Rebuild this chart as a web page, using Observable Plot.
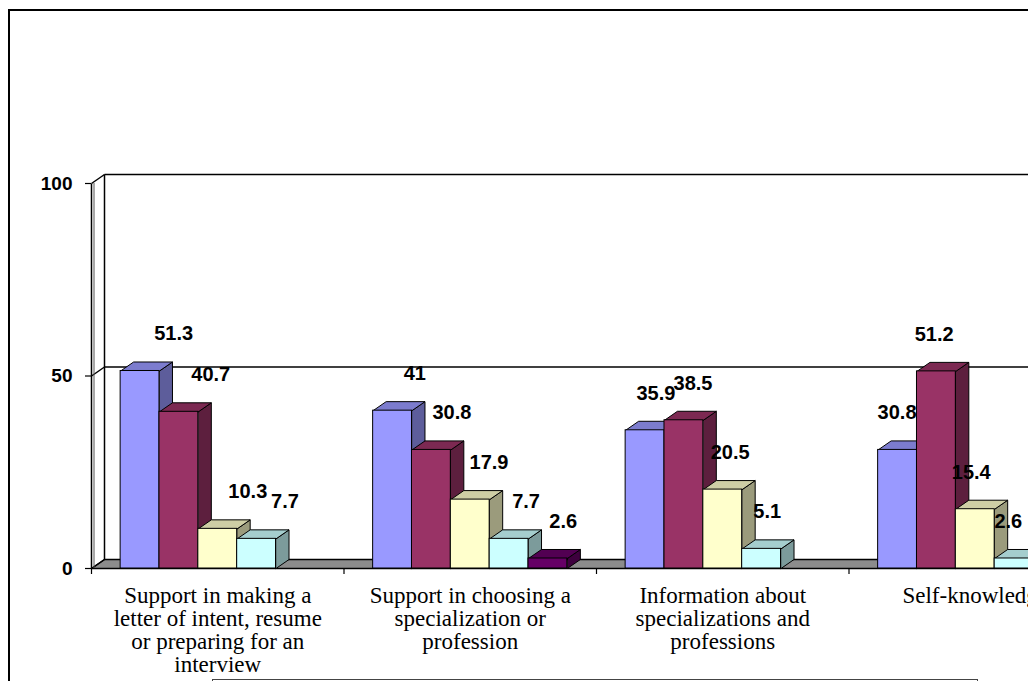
<!DOCTYPE html>
<html>
<head>
<meta charset="utf-8">
<script src="https://cdn.jsdelivr.net/npm/d3@7"></script>
<script src="https://cdn.jsdelivr.net/npm/@observablehq/plot@0.6"></script>
<style>
  html, body { margin: 0; padding: 0; background: #fff; overflow: hidden; width: 1028px; height: 681px; }
  #frame { position: absolute; left: 8px; top: 9px; width: 1100px; height: 720px; border: 2px solid #000; box-sizing: border-box; }
  #chart { position: absolute; left: 0; top: 0; }
  #legend { position: absolute; left: 212px; top: 679px; width: 766px; height: 40px; border: 1px solid #444; box-sizing: border-box; }
</style>
</head>
<body>
<div id="frame"></div>
<div id="legend"></div>
<div id="chart"></div>
<script>
// ---- data ----
const categories = [
  "Support in making a\nletter of intent, resume\nor preparing for an\ninterview",
  "Support in choosing a\nspecialization or\nprofession",
  "Information about\nspecializations and\nprofessions",
  "Self-knowledge"
];
const series1 = [51.3, 41, 35.9, 30.8];
const series2 = [40.7, 30.8, 38.5, 51.2];
const series3 = [10.3, 17.9, 20.5, 15.4];
const series4 = [7.7, 7.7, 5.1, 2.6];
const series5 = [null, 2.6, null, null];
const seriesColors = ["#9999FF", "#993366", "#FFFFCC", "#CCFFFF", "#660066"];
const yTicks = [0, 50, 100];

// ---- layout ----
const allSeries = [series1, series2, series3, series4, series5];
const GAP = 1.5;                 // gap width 150 %
const NS = allSeries.length;
const GROUP = NS + GAP;
const XMAX = categories.length * GROUP;
const xRange = [91, 1101];
const yRange = [568, 183];
const pxX = (xRange[1] - xRange[0]) / XMAX;
const pxY = (yRange[0] - yRange[1]) / 100;
const D = 13 / pxX;    // depth offset in x units
const DY = 9 / pxY;    // depth offset in y units
const XEND = XMAX + 2;

const bars = [];
categories.forEach((c, g) => {
  allSeries.forEach((ser, s) => {
    const v = ser[g];
    if (v == null) return;
    const x0 = g * GROUP + GAP / 2 + s;
    const col = d3.color(seriesColors[s]);
    bars.push({
      id: g + "-" + s, g, s, v, x0, x1: x0 + 1,
      color: seriesColors[s],
      side: col.darker(1.4).formatHex(),
      top: col.darker(0.6).formatHex()
    });
  });
});

const sides = bars.flatMap(b => [
  {id: b.id, fill: b.side, x: b.x1, y: b.v},
  {id: b.id, fill: b.side, x: b.x1 + D, y: b.v + DY},
  {id: b.id, fill: b.side, x: b.x1 + D, y: DY},
  {id: b.id, fill: b.side, x: b.x1, y: 0}
]);
const tops = bars.flatMap(b => [
  {id: b.id, fill: b.top, x: b.x0, y: b.v},
  {id: b.id, fill: b.top, x: b.x0 + D, y: b.v + DY},
  {id: b.id, fill: b.top, x: b.x1 + D, y: b.v + DY},
  {id: b.id, fill: b.top, x: b.x1, y: b.v}
]);
const floor = [
  {x: 0, y: 0}, {x: XEND, y: 0}, {x: XEND + D, y: DY}, {x: D, y: DY}
];
const wallLines = [
  {x1: 0, y1: 0, x2: 0, y2: 100},
  {x1: D, y1: DY, x2: D, y2: 100 + DY},
  ...yTicks.map(t => ({x1: 0, y1: t, x2: D, y2: t + DY})),
  ...yTicks.filter(t => t > 0).map(t => ({x1: D, y1: t + DY, x2: XEND + D, y2: t + DY}))
];
const groupEdges = d3.range(categories.length + 1).map(i => i * GROUP);

// label placement (Excel 3-D style drift)
const labelShiftPx = b => {
  const cx = xRange[0] + (b.x0 + 0.5) * pxX;
  return 31 - 0.045 * (cx - 197);
};

const chart = Plot.plot({
  width: 1028,
  height: 681,
  marginLeft: 91,
  marginRight: 0,
  marginTop: 0,
  marginBottom: 113,
  style: {background: "transparent", overflow: "hidden"},
  x: {type: "linear", domain: [0, XMAX], range: xRange, label: null},
  y: {type: "linear", domain: [0, 100], range: yRange, label: null},
  color: {type: "identity"},
  marks: [
    Plot.line(floor, {x: "x", y: "y", fill: "#8c8c8c", stroke: "#000", strokeWidth: 1.5, curve: "linear-closed"}),
    Plot.link(wallLines, {x1: "x1", y1: "y1", x2: "x2", y2: "y2", stroke: "#000", strokeWidth: 1.5}),
    Plot.ruleX([0], {y1: () => 0, y2: () => 100, dx: 2.5, stroke: "#555", strokeWidth: 1}),
    Plot.line(sides, {x: "x", y: "y", z: "id", fill: "fill", stroke: "#000", strokeWidth: 1, curve: "linear-closed"}),
    Plot.line(tops, {x: "x", y: "y", z: "id", fill: "fill", stroke: "#000", strokeWidth: 1, curve: "linear-closed"}),
    Plot.rect(bars, {x1: "x0", x2: "x1", y1: () => 0, y2: "v", fill: "color", stroke: "#000", strokeWidth: 1}),
    Plot.axisY(yTicks, {anchor: "left", tickSize: 6, tickPadding: 13, label: null,
      fontSize: 19, fontWeight: "bold", fontFamily: "Liberation Sans, Arial, sans-serif", stroke: "#000", strokeWidth: 1.2}),
    Plot.axisX(groupEdges, {anchor: "bottom", tickSize: 6, tickFormat: () => "", label: null, stroke: "#000", strokeWidth: 1.2}),
    Plot.text(bars, {
      x: b => b.x0 + 0.5 + labelShiftPx(b) / pxX,
      y: "v",
      text: b => String(b.v),
      dy: -37,
      fontSize: 20,
      fontWeight: "bold",
      fontFamily: "Liberation Sans, Arial, sans-serif",
      fill: "#000"
    }),
    Plot.text(categories, {
      x: (d, i) => i * GROUP + GROUP / 2,
      y: () => 0,
      text: d => d,
      lineAnchor: "top",
      dy: 18.5,
      fontSize: 23,
      lineHeight: 1,
      fontFamily: "Liberation Serif, 'Times New Roman', serif",
      fill: "#000"
    })
  ]
});
document.getElementById("chart").append(chart);
</script>
</body>
</html>
